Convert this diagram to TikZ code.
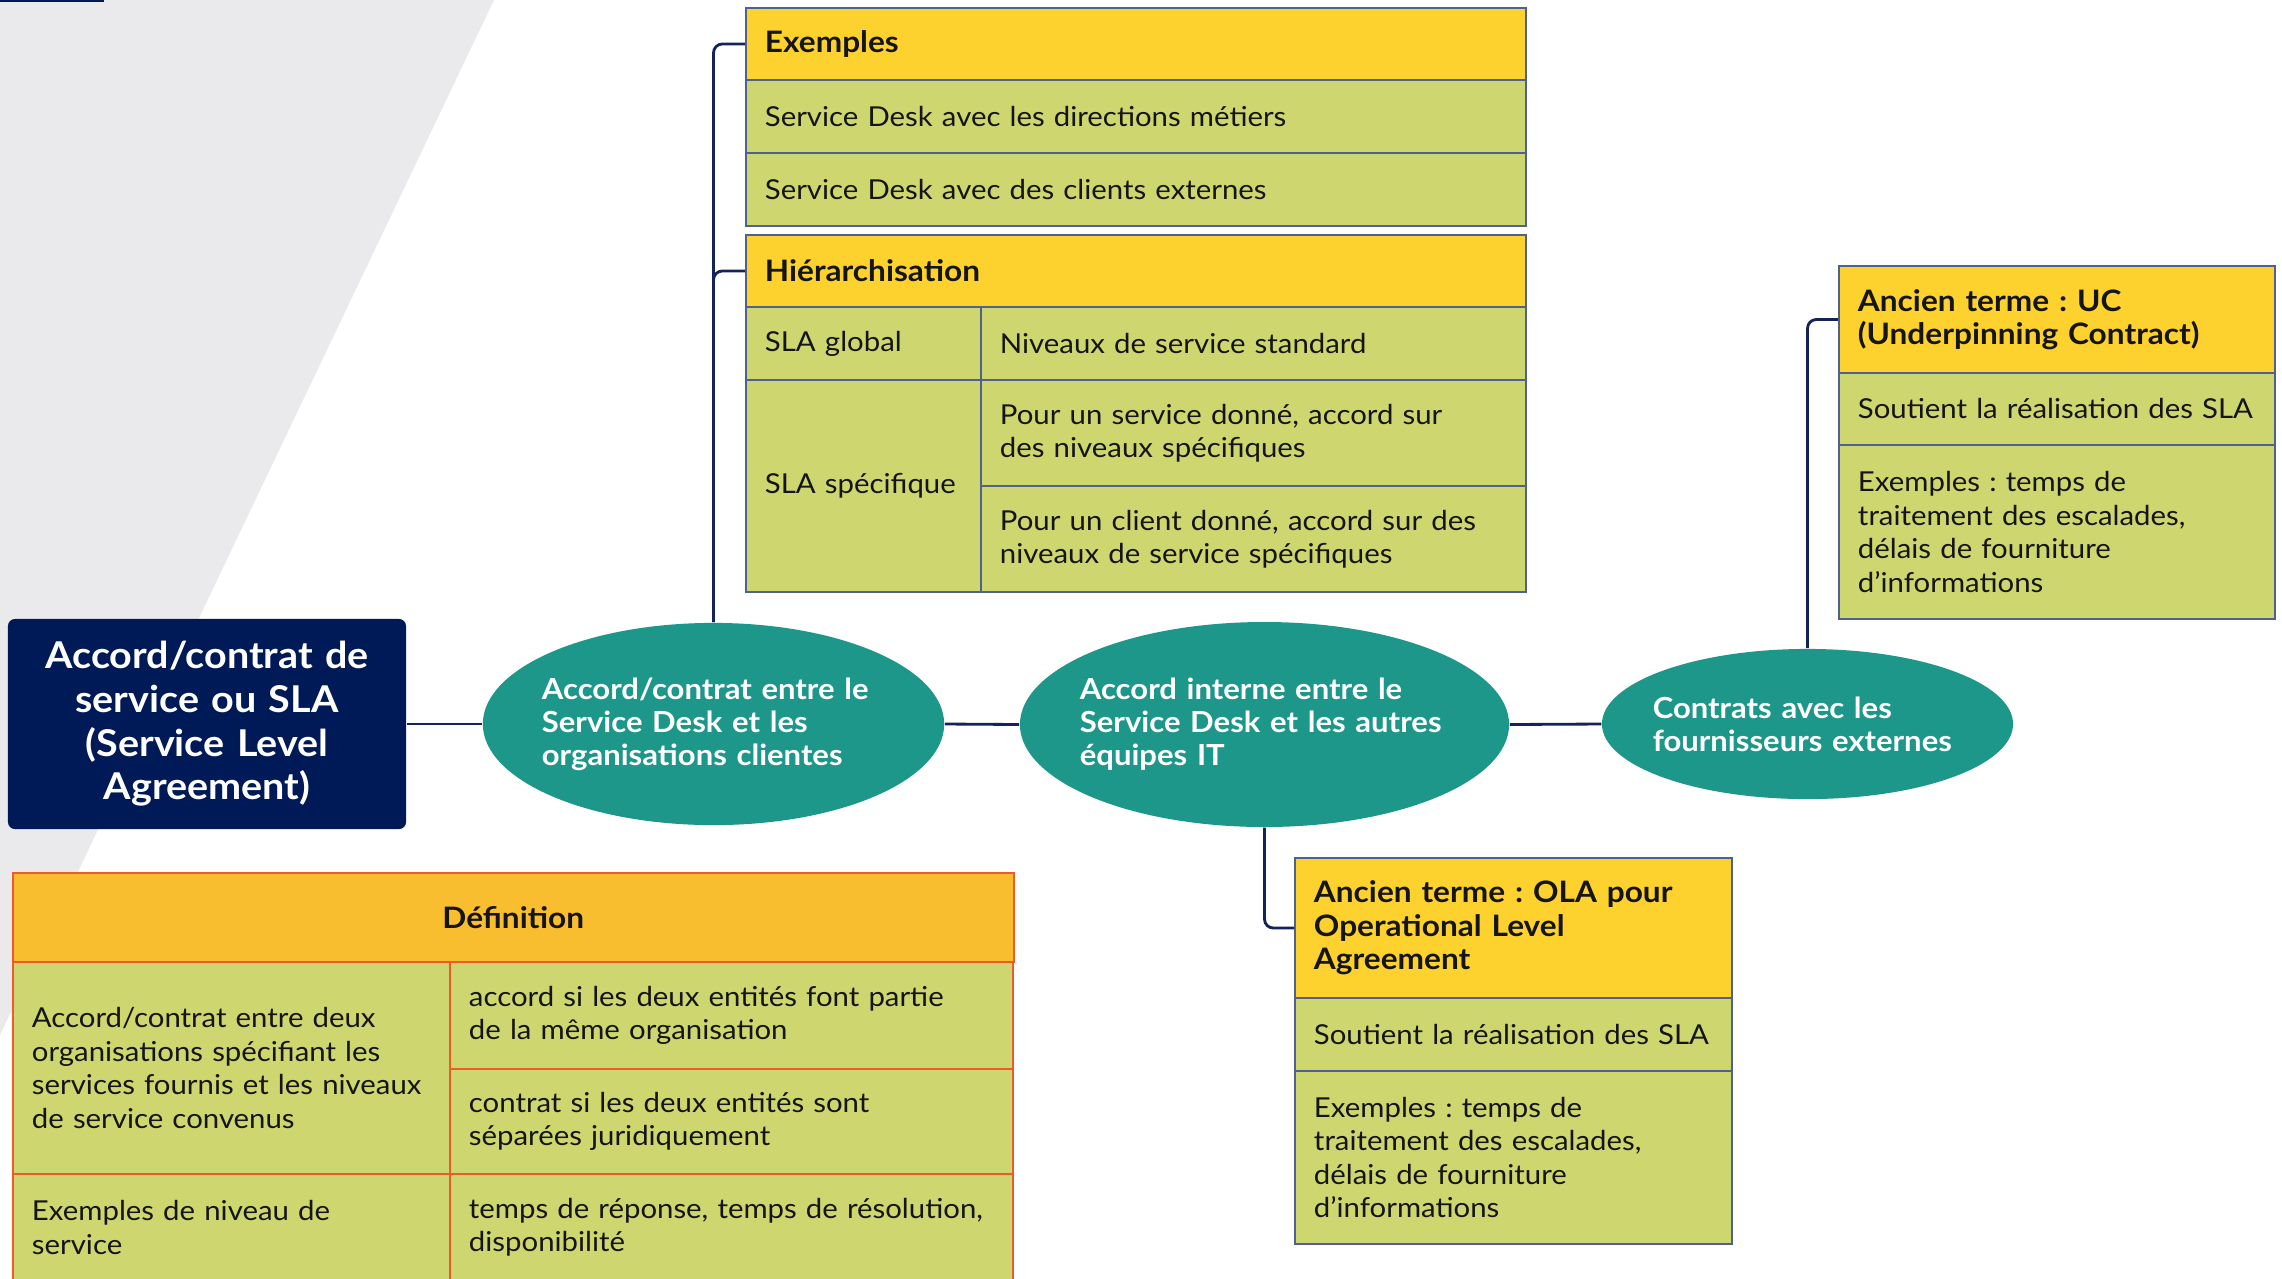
\documentclass[tikz,border=0pt]{standalone}
\usepackage{fontspec}
\setmainfont{Lato}[FakeStretch=1.07]
\usetikzlibrary{shapes.geometric}

\definecolor{cnavy}{HTML}{001A57}
\definecolor{cnavyln}{HTML}{14235A}
\definecolor{cteal}{HTML}{1E978B}
\definecolor{cyel}{HTML}{FDD22F}
\definecolor{colive}{HTML}{CED66F}
\definecolor{corange}{HTML}{F9BD30}
\definecolor{cred}{HTML}{EE5A2C}
\definecolor{cslate}{HTML}{50608F}
\definecolor{cgrey}{HTML}{EAEAEC}
\definecolor{cink}{HTML}{151515}

\newcommand\bodyfont{\fontsize{7.8}{9.5}\selectfont}
\newcommand\headfont{\fontsize{8.4}{9.5}\selectfont\bfseries}
\newcommand\ovalfont{\fontsize{8.25}{9.4}\selectfont\bfseries}
\newcommand\mainfont{\fontsize{10.5}{12.4}\selectfont\bfseries}

\tikzset{
  conn/.style={draw=cnavyln, line width=0.8pt, rounded corners=2.5pt},
  cellbox/.style={draw=cslate, line width=0.55pt, rectangle, inner xsep=5.4pt,
    inner ysep=0pt, align=left, font=\bodyfont, text=cink, fill=colive},
  headcell/.style={fill=cyel, font=\headfont},
  defcell/.style={draw=cred},
  oval/.style={ellipse, fill=cteal, draw=none, inner sep=0pt},
  ovaltext/.style={align=left, text=white, font=\ovalfont, inner sep=0pt},
}

% \tcell[style]{name}{x1}{y1}{x2}{y2}{text}: table cell in pixel units
\newcommand\tcell[7][]{%
  \pgfmathsetmacro\cellW{(#5-#3)*0.28453}%
  \pgfmathsetmacro\cellH{(#6-#4)*0.28453}%
  \pgfmathsetmacro\cellT{\cellW-10.8}%
  \node[cellbox,#1,minimum width=\cellW pt,minimum height=\cellH pt,
        text width=\cellT pt,anchor=north west] (#2) at (#3,#4) {#7};}

\frenchspacing
\begin{document}
\frenchspacing
\begin{tikzpicture}[x=0.01cm,y=-0.01cm]
\useasboundingbox (0,0) rectangle (2282,1278);
\clip (0,0) rectangle (2282,1278);
\fill[white] (0,0) rectangle (2282,1278);

% background band and top rule
\fill[cgrey] (0,0) -- (494,0) -- (0,1035) -- cycle;
\fill[cnavy] (0,0) rectangle (104,1.6);

% main topic
\node[fill=cnavy, rounded corners=2pt, minimum width=113.2pt, minimum height=59.75pt,
      text width=110pt, align=center, text=white, font=\mainfont, inner sep=0pt]
  (sla) at (207,724) {Accord/contrat de\\service ou SLA\\(Service Level\\Agreement)};

% three categories
\node[oval, minimum width=131.2pt, minimum height=57.5pt] (e1) at (713.5,724) {};
\node[ovaltext, text width=97.6pt] (e1t) at (e1.center)
  {Accord/contrat entre le\\Service Desk et les\\organisations clientes};
\node[oval, minimum width=139.1pt, minimum height=58.3pt] (e2) at (1264.5,724.5) {};
\node[ovaltext, text width=105pt] (e2t) at (e2.center)
  {Accord interne entre le\\Service Desk et les autres\\équipes IT};
\node[oval, minimum width=116.9pt, minimum height=42.7pt] (e3) at (1807.5,724) {};
\node[ovaltext, text width=88pt] (e3t) at (e3.center)
  {Contrats avec les\\fournisseurs externes};

% examples table
\tcell[headcell]{exh}{745}{7}{1525}{79}{Exemples}
\tcell{ex1}{745}{79}{1525}{152}{Service Desk avec les directions métiers}
\tcell{ex2}{745}{152}{1525}{225}{Service Desk avec des clients externes}

% hierarchy table
\tcell[headcell]{hih}{745}{234}{1525}{306}{Hiérarchisation}
\tcell{hg}{745}{306}{980}{379}{SLA global}
\tcell{hgd}{980}{306}{1525}{379}{Niveaux de service standard}
\tcell{hs}{745}{379}{980}{591}{SLA spécifique}
\tcell{hs1}{980}{379}{1525}{485}{Pour un service donné, accord sur\\des niveaux spécifiques}
\tcell{hs2}{980}{485}{1525}{591}{Pour un client donné, accord sur des\\niveaux de service spécifiques}

% underpinning contract
\tcell[headcell]{uch}{1838}{265}{2274}{372}{Ancien terme : UC\\(Underpinning Contract)}
\tcell{uc1}{1838}{372}{2274}{444}{Soutient la réalisation des SLA}
\tcell{uc2}{1838}{444}{2274}{618}{Exemples : temps de\\traitement des escalades,\\délais de fourniture\\d'informations}

% operational level agreement
\tcell[headcell]{olah}{1294}{857}{1731}{997}{Ancien terme : OLA pour\\Operational Level\\Agreement}
\tcell{ola1}{1294}{997}{1731}{1070}{Soutient la réalisation des SLA}
\tcell{ola2}{1294}{1070}{1731}{1243}{Exemples : temps de\\traitement des escalades,\\délais de fourniture\\d'informations}

% definition table
\tcell[defcell, fill=corange, font=\headfont, align=center]{defh}{12}{872}{1012}{961}{Définition}
\tcell[defcell]{dl1}{12}{961}{449}{1173}{Accord/contrat entre deux\\organisations spécifiant les\\services fournis et les niveaux\\de service convenus}
\tcell[defcell]{dr1}{449}{961}{1012}{1068}{accord si les deux entités font partie\\de la même organisation}
\tcell[defcell]{dr2}{449}{1068}{1012}{1173}{contrat si les deux entités sont\\séparées juridiquement}
\tcell[defcell]{dl3}{12}{1173}{449}{1280}{Exemples de niveau de\\service}
\tcell[defcell]{dr3}{449}{1173}{1012}{1280}{temps de réponse, temps de résolution,\\disponibilité}

% connectors
\draw[conn] (sla.east) -- (e1.west);
\draw[conn] (e1.east) -- (e2.west);
\draw[conn] (e2.east) -- (e3.west);
\draw[conn] (e1.north) |- (exh.west);
\draw[conn] (e1.north) |- (hih.west);
\draw[conn] (e3.north) |- (uch.west);
\draw[conn] (e2.south) |- (olah.west);
\end{tikzpicture}
\end{document}
